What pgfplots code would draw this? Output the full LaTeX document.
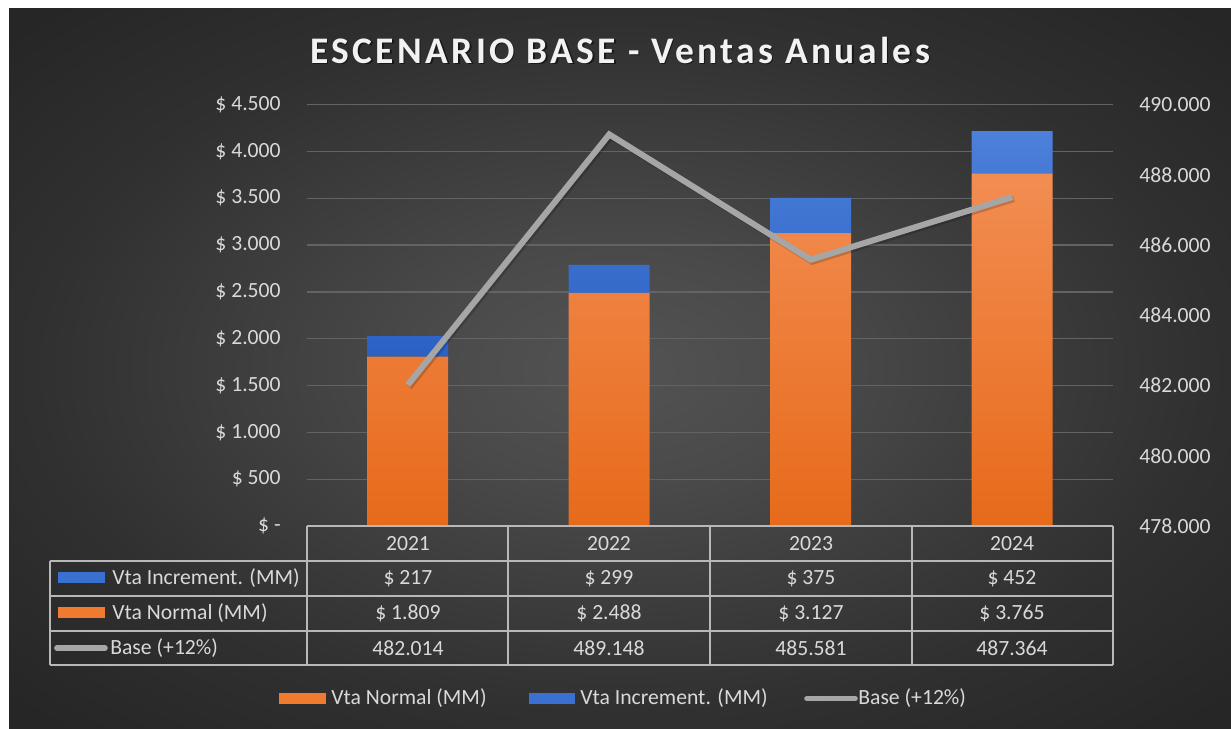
\documentclass[border=0pt]{standalone}
\usepackage{pgfplots}
\pgfplotsset{compat=1.18}
\usepackage{fontspec}
\setmainfont{Carlito}
\definecolor{bgA}{HTML}{535353}
\definecolor{bgB}{HTML}{4A4A4A}
\definecolor{bgC}{HTML}{303030}
\definecolor{bgD}{HTML}{262626}
\definecolor{gridc}{HTML}{636363}
\definecolor{tickc}{HTML}{D9D9D9}
\definecolor{tablec}{HTML}{B8B8B8}
\definecolor{orTop}{HTML}{F28D52}
\definecolor{orBot}{HTML}{E76A1A}
\definecolor{orKey}{HTML}{F07B2E}
\definecolor{blTop}{HTML}{4C80DA}
\definecolor{blBot}{HTML}{2C61C4}
\definecolor{blKey}{HTML}{3A70D0}
\definecolor{linec}{HTML}{A6A6A6}
\pgfdeclareradialshading{bgshade}{\pgfpoint{0bp}{0bp}}{color(0bp)=(bgA); color(8bp)=(bgB); color(24bp)=(bgC); color(34bp)=(bgD); color(50bp)=(bgD)}
\newcommand{\tfs}{\fontsize{13}{15}\selectfont}
\begin{document}
\begin{tikzpicture}
\begin{scope}[x=0.6pt,y=-0.6pt]
\fill[white] (0,0) rectangle (1231,729);
\shade[shading=bgshade] (9,8) rectangle (1231,729);
\node[font=\fontsize{22.5}{25}\bfseries\addfontfeature{LetterSpace=9}, text=black, opacity=0.5] at (621.5,51.5) {ESCENARIO BASE - Ventas Anuales};
\node[font=\fontsize{22.5}{25}\bfseries\addfontfeature{LetterSpace=9}, text=white!95!black] at (620,50) {ESCENARIO BASE - Ventas Anuales};
\end{scope}

\begin{axis}[
  at={(184.2pt,-315.6pt)}, anchor=south west,
  scale only axis, width=483.6pt, height=252.9pt,
  xmin=-0.5, xmax=3.5, ymin=0, ymax=4500,
  ybar stacked, bar width=48.6pt,
  axis line style={draw=none},
  xtick=\empty,
  ytick={0,500,1000,1500,2000,2500,3000,3500,4000,4500},
  yticklabels={{\$ -\hspace{6pt}},{\$ 500},{\$ 1.000},{\$ 1.500},{\$ 2.000},{\$ 2.500},{\$ 3.000},{\$ 3.500},{\$ 4.000},{\$ 4.500}},
  ymajorgrids, grid style={draw=gridc, line width=0.8pt},
  major tick length=0pt, tick style={draw=none},
  yticklabel style={font=\tfs, text=tickc, inner sep=0pt, anchor=east, xshift=-15.6pt},
  clip=false,
]
\addplot[draw=none, top color=orTop, bottom color=orBot] coordinates {(0,1809) (1,2488) (2,3127) (3,3765)};
\addplot[draw=none, top color=blTop, bottom color=blBot] coordinates {(0,217) (1,299) (2,375) (3,452)};
\end{axis}

\begin{axis}[
  at={(184.2pt,-315.6pt)}, anchor=south west,
  scale only axis, width=483.6pt, height=252.9pt,
  xmin=-0.5, xmax=3.5, ymin=478000, ymax=490000,
  axis x line=none, axis y line*=right, axis line style={draw=none},
  ytick={478000,480000,482000,484000,486000,488000,490000},
  yticklabels={478.000,480.000,482.000,484.000,486.000,488.000,490.000},
  scaled y ticks=false, major tick length=0pt, tick style={draw=none},
  yticklabel style={font=\tfs, text=tickc, inner sep=0pt, anchor=west, xshift=15.6pt},
  clip=false,
]
\addplot[black, opacity=0.18, line width=3.6pt, mark=none, xshift=1pt, yshift=-1.2pt] coordinates {(0,482014) (1,489148) (2,485581) (3,487364)};
\addplot[linec, line width=3.6pt, mark=none] coordinates {(0,482014) (1,489148) (2,485581) (3,487364)};
\end{axis}

\begin{scope}[x=0.6pt,y=-0.6pt]
% table grid
\draw[tablec, line width=1.1pt] (307,526) -- (1113,526);
\foreach \yy in {561,596,631,665} {\draw[tablec, line width=1.1pt] (50,\yy) -- (1113,\yy);}
\foreach \xx in {307,508,710,912,1113} {\draw[tablec, line width=1.1pt] (\xx,526) -- (\xx,665);}
\draw[tablec, line width=1.1pt] (50,561) -- (50,665);
% header and values
\foreach \xx/\lab in {408/2021,609/2022,811/2023,1012/2024} {\node[font=\tfs, text=tickc] at (\xx,543.5) {\lab};}
\foreach \xx/\lab in {408/{\$ 217},609/{\$ 299},811/{\$ 375},1012/{\$ 452}} {\node[font=\tfs, text=tickc] at (\xx,578.5) {\lab};}
\foreach \xx/\lab in {408/{\$ 1.809},609/{\$ 2.488},811/{\$ 3.127},1012/{\$ 3.765}} {\node[font=\tfs, text=tickc] at (\xx,613.5) {\lab};}
\foreach \xx/\lab in {408/482.014,609/489.148,811/485.581,1012/487.364} {\node[font=\tfs, text=tickc] at (\xx,648) {\lab};}
% row labels with keys
\fill[blKey] (58,572) rectangle (105,583);
\node[font=\tfs, text=tickc, anchor=west, inner sep=0pt] at (112,578.5) {Vta Increment. (MM)};
\fill[orKey] (58,607) rectangle (105,618);
\node[font=\tfs, text=tickc, anchor=west, inner sep=0pt] at (112,613.5) {Vta Normal (MM)};
\draw[linec, line width=3.4pt, line cap=round] (57,648) -- (105,648);
\node[font=\tfs, text=tickc, anchor=west, inner sep=0pt] at (110,648) {Base (+12\%)};
% bottom legend
\fill[orKey] (279,693) rectangle (326,704);
\node[font=\tfs, text=tickc, anchor=west, inner sep=0pt] at (331,698.5) {Vta Normal (MM)};
\fill[blKey] (529,693) rectangle (575,704);
\node[font=\tfs, text=tickc, anchor=west, inner sep=0pt] at (580,698.5) {Vta Increment. (MM)};
\draw[linec, line width=3.4pt, line cap=round] (807,698.5) -- (855,698.5);
\node[font=\tfs, text=tickc, anchor=west, inner sep=0pt] at (858,698.5) {Base (+12\%)};
\end{scope}
\end{tikzpicture}
\end{document}
